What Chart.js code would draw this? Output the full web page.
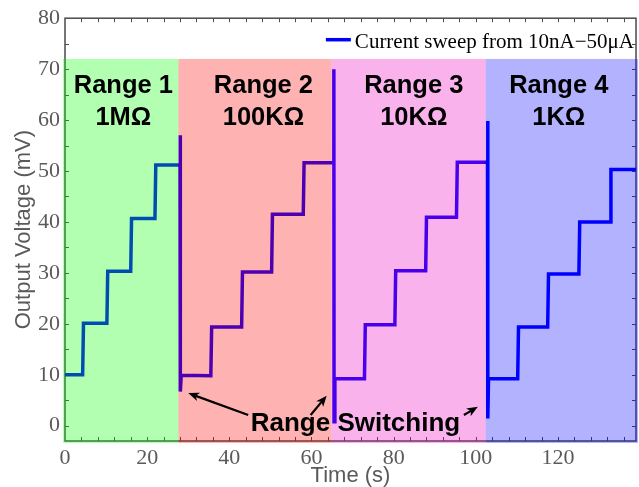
<!DOCTYPE html>
<html><head><meta charset="utf-8">
<script src="https://cdn.jsdelivr.net/npm/chart.js@4.4.1/dist/chart.umd.min.js"></script>
<style>html,body{margin:0;padding:0;background:#fff;overflow:hidden}#wrap{width:639px;height:487px}</style>
</head><body><div id="wrap"><canvas id="c" width="639" height="487"></canvas></div>
<script>
// ---- data ----
const seriesLabel = 'Current sweep from 10nA\u221250\u03bcA';
const timeS = [
  0, 4.3, 4.5, 10.2, 10.4, 16.0, 16.2, 21.9, 22.1, 28.0, 28.05, 28.1, 28.3,
  35.5, 35.7, 43.0, 43.2, 50.3, 50.5, 58.0, 58.2, 65.4, 65.45, 65.5, 65.7,
  72.9, 73.1, 80.3, 80.5, 87.8, 88.0, 95.3, 95.5, 102.85, 102.9, 102.95, 103.1,
  110.2, 110.4, 117.5, 117.7, 125.1, 125.3, 132.7, 132.9, 139
];
const voltageMV = [
  10.0, 10.0, 20.1, 20.1, 30.3, 30.3, 40.7, 40.7, 51.2, 51.2, 57.0, 6.7, 9.9,
  9.8, 19.4, 19.4, 30.2, 30.2, 41.5, 41.5, 51.6, 51.6, 70.0, 0.8, 9.2,
  9.2, 19.8, 19.8, 30.4, 30.4, 40.9, 40.9, 51.7, 51.7, 59.8, 1.4, 9.2,
  9.2, 19.4, 19.4, 29.8, 29.8, 40.0, 40.0, 50.3, 50.3
];
const xTickValues = [0, 20, 40, 60, 80, 100, 120];
const yTickValues = [0, 10, 20, 30, 40, 50, 60, 70, 80];
const rangeNames = ['Range 1', 'Range 2', 'Range 3', 'Range 4'];
const rangeResistances = ['1M\u03a9', '100K\u03a9', '10K\u03a9', '1K\u03a9'];
const rangeBounds = [0, 27.6, 64.9, 102.4, 139];
const rangeTop = 72;
const rangeColors = ['rgba(0,255,0,0.3)', 'rgba(255,0,0,0.3)', 'rgba(238,0,192,0.3)', 'rgba(0,0,255,0.3)'];
const rangeLabelX = [14.2, 48.3, 84.9, 120.2];
const rangeLabelY = [65.3, 59.1];
const switchLabel = 'Range Switching';
const switchLabelPos = [70.7, -0.97];
const switchArrowFrom = [[44.6, 2.1], [59.8, 2.1], [97.1, 2.1]];
const switchArrowTo = [[30.0, 6.4], [63.7, 5.9], [100.5, 3.7]];

const points = timeS.map((t, i) => ({x: t, y: voltageMV[i]}));

const GRAY = '#4a4a4a';
const TICKGRAY = '#5a5a5a';

const deco = {
  id: 'deco',
  beforeDatasetsDraw(chart) {
    const {ctx, chartArea: a, scales: {x, y}} = chart;
    ctx.save();
    ctx.strokeStyle = GRAY;
    ctx.lineWidth = 1.5;
    ctx.strokeRect(a.left, a.top, a.right - a.left, a.bottom - a.top);
    ctx.lineWidth = 1;
    ctx.beginPath();
    for (let v = 4; v < x.max; v += 4) {
      const px = Math.round(x.getPixelForValue(v)) + 0.5;
      ctx.moveTo(px, a.bottom); ctx.lineTo(px, a.bottom - 4);
      ctx.moveTo(px, a.top); ctx.lineTo(px, a.top + 4);
    }
    for (let v = 0; v < y.max; v += 5) {
      const py = Math.round(y.getPixelForValue(v)) + 0.5;
      ctx.moveTo(a.left, py); ctx.lineTo(a.left + 4, py);
      ctx.moveTo(a.right, py); ctx.lineTo(a.right - 4, py);
    }
    ctx.stroke();
    ctx.restore();
  },
  afterDatasetsDraw(chart) {
    const {ctx, chartArea: a, scales: {x, y}} = chart;
    ctx.save();
    // shaded ranges (drawn over the trace, as in the original)
    const yt = y.getPixelForValue(rangeTop);
    for (let i = 0; i < rangeNames.length; i++) {
      let l = x.getPixelForValue(rangeBounds[i]);
      let r = x.getPixelForValue(rangeBounds[i + 1]);
      if (i === 0) l -= 2;
      if (i === rangeNames.length - 1) r += 2;
      ctx.fillStyle = rangeColors[i];
      ctx.fillRect(l, yt, r - l, a.bottom + 2 - yt);
    }
    // range labels
    ctx.fillStyle = '#000';
    ctx.font = 'bold 25.5px "Liberation Sans", Arial, sans-serif';
    ctx.textAlign = 'center';
    ctx.textBaseline = 'alphabetic';
    for (let i = 0; i < rangeNames.length; i++) {
      const px = x.getPixelForValue(rangeLabelX[i]);
      ctx.fillText(rangeNames[i], px, y.getPixelForValue(rangeLabelY[0]));
      ctx.fillText(rangeResistances[i], px, y.getPixelForValue(rangeLabelY[1]));
    }
    // switching label + arrows
    ctx.font = 'bold 26px "Liberation Sans", Arial, sans-serif';
    ctx.fillText(switchLabel, x.getPixelForValue(switchLabelPos[0]), y.getPixelForValue(switchLabelPos[1]));
    ctx.strokeStyle = '#000';
    ctx.lineWidth = 2.2;
    for (let i = 0; i < switchArrowFrom.length; i++) {
      const x0 = x.getPixelForValue(switchArrowFrom[i][0]), y0 = y.getPixelForValue(switchArrowFrom[i][1]);
      const x1 = x.getPixelForValue(switchArrowTo[i][0]), y1 = y.getPixelForValue(switchArrowTo[i][1]);
      const ang = Math.atan2(y1 - y0, x1 - x0);
      const hl = 11, hw = 4.5;
      const bx = x1 - hl * Math.cos(ang), by = y1 - hl * Math.sin(ang);
      ctx.beginPath(); ctx.moveTo(x0, y0); ctx.lineTo(bx + 3 * Math.cos(ang), by + 3 * Math.sin(ang)); ctx.stroke();
      ctx.beginPath();
      ctx.moveTo(x1, y1);
      ctx.lineTo(bx - hw * Math.sin(ang), by + hw * Math.cos(ang));
      ctx.lineTo(bx + 3 * Math.cos(ang), by + 3 * Math.sin(ang));
      ctx.lineTo(bx + hw * Math.sin(ang), by - hw * Math.cos(ang));
      ctx.closePath(); ctx.fillStyle = '#000'; ctx.fill();
    }
    // legend
    const ds = chart.data.datasets[0];
    ctx.font = '21px "Liberation Serif", "Times New Roman", serif';
    ctx.textAlign = 'right';
    ctx.textBaseline = 'alphabetic';
    ctx.fillStyle = '#000';
    const tx = a.right - 2, ty = a.top + 30;
    ctx.fillText(ds.label, tx, ty);
    const tw = ctx.measureText(ds.label).width;
    ctx.strokeStyle = ds.borderColor;
    ctx.lineWidth = 3.5;
    ctx.beginPath();
    ctx.moveTo(tx - tw - 29, a.top + 21.5);
    ctx.lineTo(tx - tw - 4, a.top + 21.5);
    ctx.stroke();
    ctx.restore();
  }
};

new Chart(document.getElementById('c'), {
  type: 'line',
  data: {
    datasets: [{
      label: seriesLabel,
      data: points,
      borderColor: '#0000ff',
      borderWidth: 3.5,
      pointRadius: 0,
      tension: 0,
      fill: false
    }]
  },
  options: {
    responsive: false,
    devicePixelRatio: 1,
    animation: false,
    events: [],
    layout: {padding: {top: 16, right: 3, left: 0, bottom: 0}},
    plugins: {legend: {display: false}, tooltip: {enabled: false}},
    scales: {
      x: {
        type: 'linear', min: 0, max: 139,
        grid: {display: false, drawTicks: false}, border: {display: false},
        afterBuildTicks: s => { s.ticks = xTickValues.map(v => ({value: v})); },
        afterFit: s => { s.height = 46; },
        ticks: {color: TICKGRAY, padding: 4, maxRotation: 0, autoSkip: false,
                font: {family: '"Liberation Serif", "Times New Roman", serif', size: 22}},
        title: {display: true, text: 'Time (s)', color: '#5a5a5a', padding: {top: 0, bottom: -2},
                font: {family: '"Liberation Sans", Arial, sans-serif', size: 22}}
      },
      y: {
        type: 'linear', min: -3, max: 80,
        grid: {display: false, drawTicks: false}, border: {display: false},
        afterBuildTicks: s => { s.ticks = yTickValues.map(v => ({value: v})); },
        afterFit: s => { s.width = 65; },
        ticks: {color: TICKGRAY, padding: 5, autoSkip: false,
                font: {family: '"Liberation Serif", "Times New Roman", serif', size: 22}},
        title: {display: true, text: 'Output Voltage (mV)', color: '#5a5a5a', padding: {top: 11, bottom: 0},
                font: {family: '"Liberation Sans", Arial, sans-serif', size: 22}}
      }
    }
  },
  plugins: [deco]
});
</script>
</body></html>
